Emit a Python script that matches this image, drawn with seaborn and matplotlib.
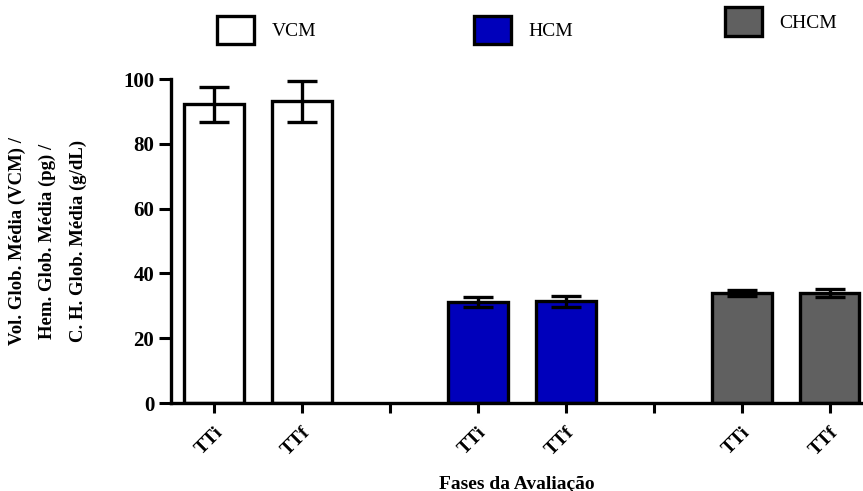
import matplotlib
matplotlib.use("Agg")
import matplotlib.pyplot as plt
import seaborn as sns
import pandas as pd
from matplotlib.patches import Patch

# Hematimetric indices at the two evaluation phases
groups = ["VCM", "HCM", "CHCM"]
phases = ["TTi", "TTf"]
means = {"VCM": [92.2, 93.2], "HCM": [31.2, 31.4], "CHCM": [33.9, 33.9]}
sems = {"VCM": [5.5, 6.3], "HCM": [1.6, 1.8], "CHCM": [1.0, 1.3]}
colors = {"VCM": "#ffffff", "HCM": "#0000bb", "CHCM": "#606060"}

# Category slots: two phases per index, with an empty slot between indices
slots = []
rows = []
for gi, g in enumerate(groups):
    for pi, p in enumerate(phases):
        key = f"{g}-{p}"
        slots.append(key)
        rows.append({"slot": key, "grupo": g, "fase": p,
                     "valor": means[g][pi], "erro": sems[g][pi]})
    if gi < len(groups) - 1:
        slots.append(f"gap{gi}")
df = pd.DataFrame(rows)

sns.set_style("ticks", {"axes.edgecolor": "black", "xtick.color": "black",
                        "ytick.color": "black", "text.color": "black",
                        "axes.labelcolor": "black"})
plt.rcParams["font.family"] = ["Liberation Serif", "DejaVu Serif"]

fig = plt.figure(figsize=(8.63, 4.91), dpi=100)
ax = fig.add_axes([0.198, 0.179, 0.802, 0.660])

sns.barplot(data=df, x="slot", y="valor", hue="grupo", order=slots,
            palette=colors, saturation=1, dodge=False, width=0.68,
            errorbar=None, edgecolor="black", linewidth=2.4, legend=False,
            ax=ax)

xpos = [slots.index(s) for s in df["slot"]]
ax.errorbar(xpos, df["valor"], yerr=df["erro"], fmt="none", ecolor="black",
            elinewidth=2.4, capsize=11, capthick=2.4, zorder=5)

ax.set_xlim(-0.49, 7.38)
ax.set_ylim(0, 100)
ax.set_yticks([0, 20, 40, 60, 80, 100])
ax.set_yticklabels(["0", "20", "40", "60", "80", "100"],
                   fontsize=15, fontweight="bold")
ax.set_xticks(range(len(slots)))
ax.set_xticklabels([s.split("-")[1] if "-" in s else "" for s in slots],
                   rotation=45, ha="right", rotation_mode="anchor",
                   fontsize=14, fontweight="bold")
ax.tick_params(axis="y", direction="out", length=9, width=2.2, pad=3)
ax.tick_params(axis="x", direction="out", length=7, width=2.2, pad=8)

for side in ["top", "right"]:
    ax.spines[side].set_visible(False)
for side in ["left", "bottom"]:
    ax.spines[side].set_linewidth(2.4)

ax.set_xlabel("Fases da Avaliação", fontsize=14, fontweight="bold",
              labelpad=12)
ax.set_ylabel("Vol. Glob. Média (VCM) /\nHem. Glob. Média (pg) /\nC. H. Glob. Média (g/dL)",
              fontsize=13.5, fontweight="bold", linespacing=2.0, labelpad=26)

# Legend entries spread across the top of the figure
legend_pos = {"VCM": (0.252, 0.968), "HCM": (0.549, 0.968), "CHCM": (0.840, 0.985)}
for g in groups:
    h = Patch(facecolor=colors[g], edgecolor="black", linewidth=2.4, label=g)
    fig.legend(handles=[h], loc="upper left", bbox_to_anchor=legend_pos[g],
               frameon=False, fontsize=14, handlelength=1.9, handleheight=1.9,
               handletextpad=0.9, borderpad=0, borderaxespad=0)

fig.savefig("out.png", dpi=100)
